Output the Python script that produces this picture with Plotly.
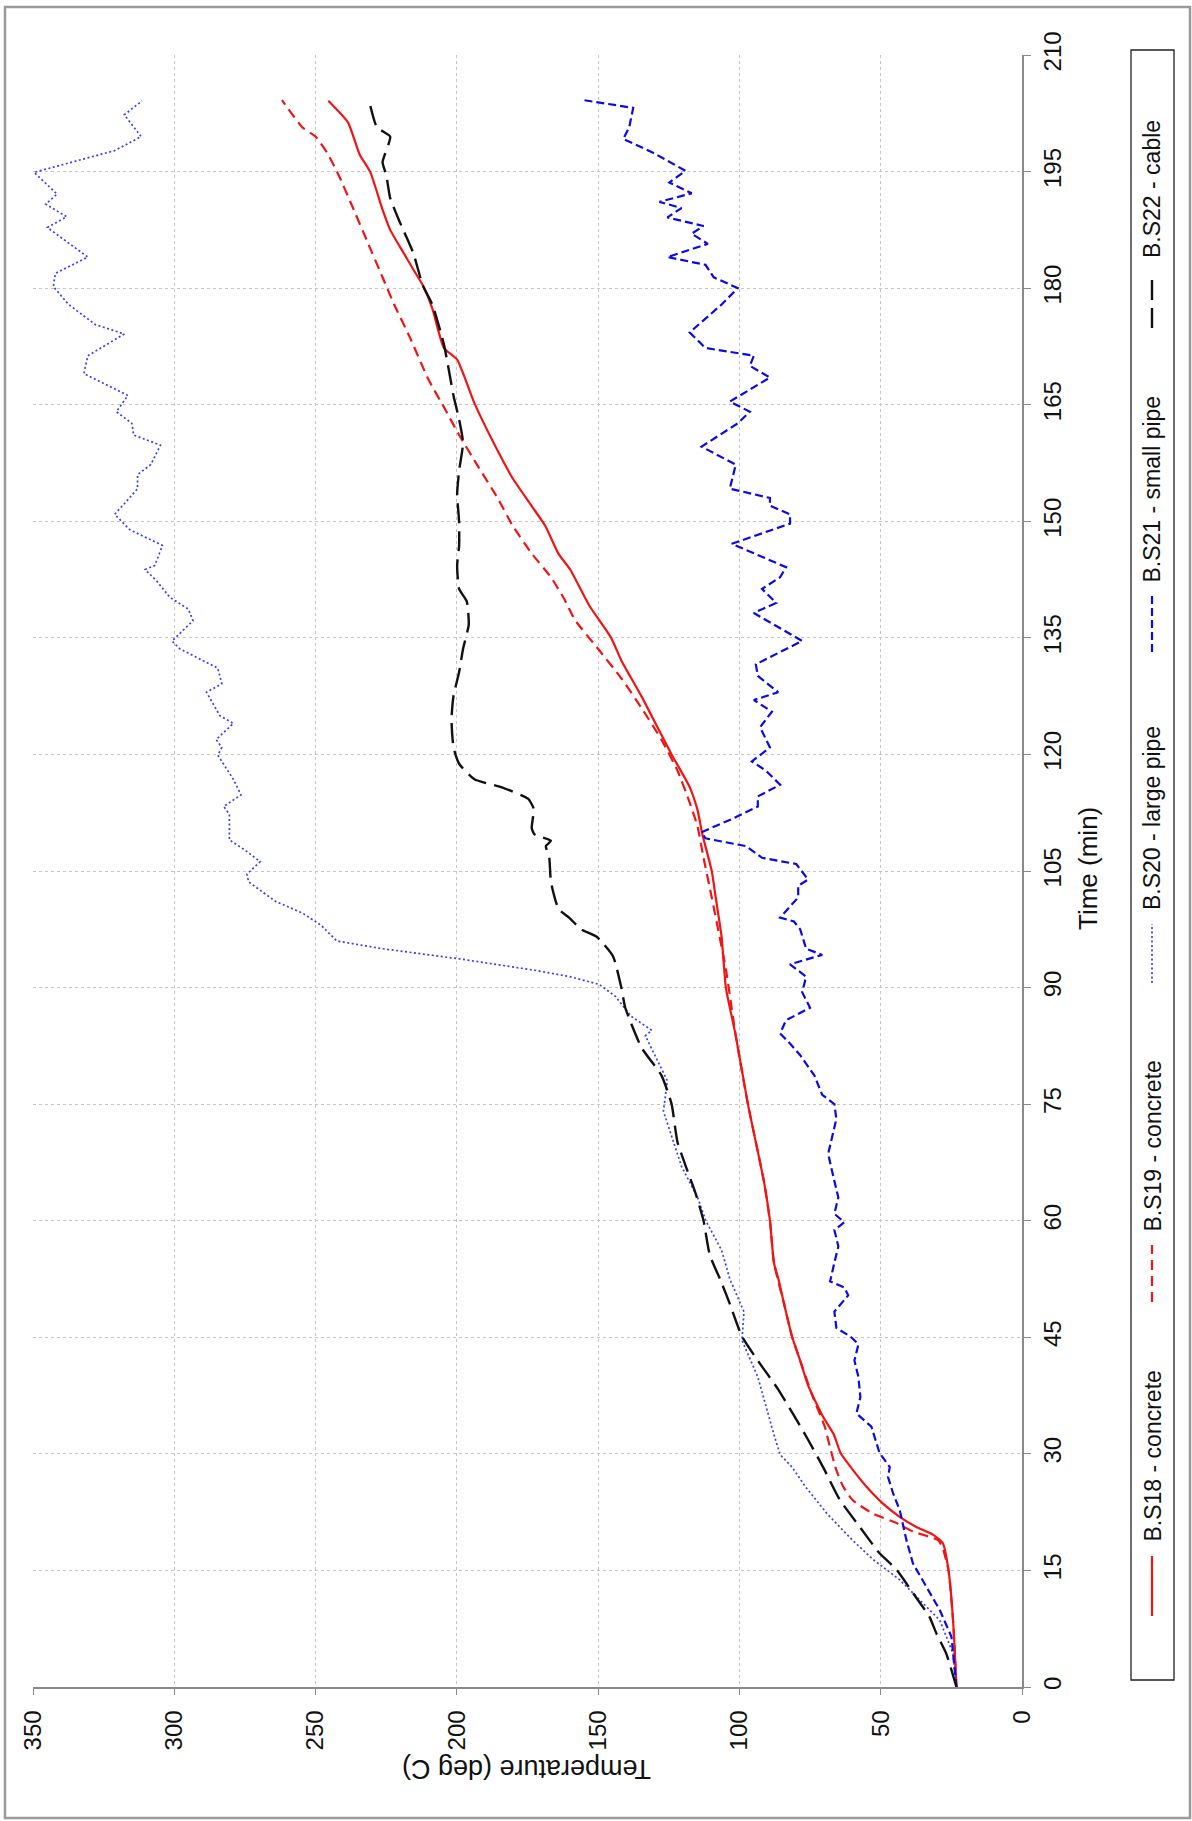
import plotly.graph_objects as go

# ---------------- data (time in min, temperature in deg C) ----------------
time_s18 = [0, 8.6, 15, 18.5, 19.6, 20.6, 21.9, 23.6, 25.8, 27.9, 30.1, 32.5, 34.9, 38.8, 42, 45.1, 49.3, 52.5, 54.6, 60,
            65, 75, 83.8, 90, 96.5, 101.6, 105, 109.7, 112.8, 115.8, 120, 123, 127.5, 132.1, 135, 139.2, 143.8, 145.8,
            149.4, 151.9, 155.5, 160.1, 165.2, 170.8, 172.3, 177.4, 180.4, 182.4, 184.5, 187.5, 190.1, 194.9, 197.2,
            201.3, 204.1]
temp_s18 = [23.2, 24.4, 26, 28, 31.5, 37.4, 43.3, 49.2, 55.1, 59.8, 64.2, 66.6, 70.6, 75.7, 78.5, 81.4, 84.2, 86.2, 87.8,
            89.2, 91.3, 97, 101.3, 104.8, 106.3, 108.4, 109.8, 113.1, 114.8, 117.6, 124, 128.3, 134.7, 141.8, 145.4,
            153.2, 159.9, 164, 168.7, 173.4, 180.2, 187, 193.8, 199.9, 204.6, 208.7, 212.1, 215.4, 218.8, 223.6, 226.3,
            230.6, 234.4, 238.5, 245.5]

time_s19 = [0, 8.6, 15, 17.8, 18.9, 20, 21.1, 22.3, 24, 25.8, 27.9, 30.9, 33.5, 37.3, 42, 45.1, 49.3, 54.6, 60, 65, 75,
            83.8, 92.4, 96.5, 101.6, 106.7, 110.7, 113.8, 117.9, 121.9, 126, 129.8, 133.4, 137.3, 140, 142.8, 145.8,
            149.4, 153, 157, 161.1, 164.7, 168.2, 173.8, 177.9, 181.4, 186, 190.6, 194.6, 197.4, 199.5, 200.7, 204.2]
temp_s19 = [23.2, 24.4, 26, 28, 29.7, 38.6, 44.4, 52.7, 59.8, 63.3, 65.7, 68, 69.8, 74, 78.5, 81.4, 84.2, 87.8, 89.2,
            91.3, 97, 101.3, 104.8, 107, 109.8, 112.7, 114.8, 117.6, 121.9, 127.6, 134.7, 141.8, 149.6, 158.2, 162,
            166.7, 173.4, 180.2, 185.6, 192.4, 199.2, 204.6, 210, 216.8, 222.2, 226.3, 231.7, 237.1, 241.9, 245.9, 250,
            254.7, 261.9]

time_s20 = [0, 4.3, 8.6, 11.2, 13.8, 16.4, 18.9, 22.3, 25.7, 28.3, 29.9, 32.5, 36.2, 39.9, 44.6, 48.3, 52.5, 56.2, 60,
            63, 67, 74.1, 78, 83.8, 84.5, 86.3, 88.9, 90.4, 91.4, 92.2, 93.7, 95, 96, 98, 99.6, 101.1, 103.6, 104.6,
            106.2, 107.7, 109, 112.3, 113.3, 114.8, 116.8, 119.9, 120.9, 121.9, 124, 125, 128, 129.1, 131.1, 133.6,
            134.6, 137.2, 138.7, 140.2, 142.3, 143.8, 144.3, 146.9, 148.9, 150.9, 152.5, 154.2, 156, 157.3, 159.8,
            161.1, 162.6, 164.1, 166.2, 169, 171.3, 174.1, 175.3, 177.9, 180.2, 181.9, 184, 186.5, 187.8, 189.2,
            190.8, 192.1, 194.9, 197.7, 199.5, 202.3, 204.1]
temp_s20 = [23.2, 24.4, 29.1, 36.2, 43.3, 52.7, 60, 69, 76.5, 81.4, 85.6, 87.8, 90.6, 93.5, 99.1, 98.4, 103.4, 106.3,
            111.9, 114.8, 120.5, 126.9, 125.5, 133.3, 131, 138.3, 144, 149.6, 160, 172, 199.2, 226.3, 242.5, 248, 254.7,
            264.2, 273.7, 274.3, 269.6, 275, 280.5, 280.5, 282.5, 276.4, 279.1, 284.6, 283.2, 285.2, 279.1, 283.9,
            288.6, 283.2, 284.6, 298.1, 300.8, 293.4, 295, 301.5, 306.2, 310.3, 306.9, 304.2, 315.7, 321.1, 317.1, 313,
            313, 308.3, 304.9, 314.4, 315, 320.5, 316.4, 332, 330.6, 317.7, 327.9, 337.4, 342.8, 342.1, 330.6, 340.1,
            344.9, 338.1, 345.5, 341.5, 349.6, 321.1, 311.7, 317.7, 311.4]

time_s21 = [0, 4.7, 6.5, 9.9, 12.9, 15.9, 18.9, 22.8, 24.9, 27, 28.3, 30.1, 33.5, 34.4, 35.2, 37.3, 39.9, 42, 44.1,
            45.1, 46.2, 48.3, 50.4, 51.4, 52.2, 54.6, 56.7, 58.8, 59.8, 60.9, 63, 65.1, 68.6, 73.1, 75, 76.2, 78.7,
            81.3, 82.8, 84.1, 85.8, 87.4, 89.4, 91.4, 93, 94.2, 95, 97.5, 98.5, 99, 101.6, 103.1, 103.9, 105.9, 106.7,
            108.2, 109.2, 110, 111.8, 113.3, 114.6, 116.1, 117.9, 119.1, 120.9, 123.5, 125.5, 127, 128, 130.1, 131.6,
            134.6, 138.2, 139.5, 141.3, 142.8, 144.1, 147.1, 149.7, 150.9, 152, 153, 154.2, 157.3, 159.6, 162.6,
            164.1, 165.4, 168.5, 170, 171.3, 172.3, 174.3, 177.9, 180, 181.4, 183, 184, 185.7, 187, 188, 189.1,
            190.3, 191.1, 192.2, 193.6, 195.1, 197.4, 199.2, 200.7, 203.2, 204.2]
temp_s21 = [23.2, 24.6, 25, 29.1, 33.8, 38.6, 40.9, 43.3, 45.6, 47.4, 46.8, 50.4, 53.3, 56.3, 58.6, 57.2, 57.9, 59.3,
            57.9, 60.7, 65.7, 66.4, 61.5, 62.9, 67.9, 66.4, 65, 66.4, 62.9, 66.4, 65, 66.4, 68.6, 65.7, 66.4, 70.7,
            73.5, 78.5, 82.1, 85.6, 83.5, 75, 77.8, 76.4, 82.1, 70.7, 76.4, 78.5, 80.7, 85.6, 79.2, 79.2, 75.7, 79.9,
            92, 97.7, 112, 113.4, 102, 93.5, 93.5, 85.6, 90.6, 95.6, 89.2, 92.7, 88.5, 94.9, 86.3, 93.5, 94.2, 77.8,
            94.9, 87, 92, 85.6, 83.5, 102.7, 82.1, 82.1, 89.2, 89.2, 103.4, 101.3, 113.4, 100.6, 96.3, 103.4, 89.2,
            96.3, 94.9, 112, 117.6, 106.3, 100.6, 109.1, 112, 125.5, 111.2, 116.9, 112.7, 125.5, 120.5, 128.3, 116.9,
            124.8, 119.1, 130.4, 141.1, 139, 137.6, 155.3]

time_s22 = [0, 4.3, 6.9, 9, 12.1, 15.1, 17.2, 20.6, 24.1, 28.3, 32.2, 38.3, 42, 45.1, 49.3, 52, 55.6, 60, 63.5, 70.1,
            75, 78.7, 82.3, 87.4, 90, 94, 96.5, 97.5, 99, 100.1, 103.6, 106.7, 108.2, 108.9, 109.7, 110.5, 113, 114.3,
            115.8, 116.8, 118.8, 120.9, 124.5, 127.5, 130.6, 133.6, 136.7, 139.7, 141.3, 144.3, 146.9, 149.9, 153.5,
            156.5, 160.1, 163.1, 166.2, 172.8, 177.9, 180.4, 184.5, 188.5, 191.6, 194.6, 196.2, 199.5, 200.7, 204]
temp_s22 = [23.2, 26.8, 30.3, 32.7, 38.6, 44.4, 50.4, 57.4, 64.5, 70.4, 76.3, 86.3, 93.5, 99.1, 103.4, 106.3, 110.5,
            112.7, 115.5, 121.9, 124, 127.6, 134.7, 140.4, 141.8, 144.7, 150.4, 156, 160.3, 164, 166.7, 167.3, 168.5,
            166.7, 172.5, 173.5, 172.8, 174.8, 184.3, 193.8, 199.2, 201.2, 201.9, 201.2, 199.2, 197.8, 195.8, 196.5,
            199.2, 199.9, 199.2, 199.2, 199.9, 199.2, 197.8, 199.2, 201.2, 204.6, 208.7, 212.1, 215.4, 220.2, 223.6,
            225, 226.3, 223.6, 228.3, 231]

series_names = ["B.S18 - concrete", "B.S19 - concrete", "B.S20 - large pipe", "B.S21 - small pipe", "B.S22 - cable"]
time_ticks = list(range(0, 211, 15))
temp_ticks = list(range(0, 351, 50))

# ---------------- styles ----------------
styles = [
    dict(color="#f01414", width=2.2, dash="solid", shape="spline"),
    dict(color="#f01414", width=2.2, dash="10px,6px", shape="spline"),
    dict(color="#3c3cff", width=1.7, dash="2px,2.5px", shape="linear"),
    dict(color="#0a0ae6", width=2.2, dash="8px,4px", shape="linear"),
    dict(color="#111111", width=2.4, dash="20px,8px", shape="spline"),
]
data = [(time_s18, temp_s18), (time_s19, temp_s19), (time_s20, temp_s20), (time_s21, temp_s21), (time_s22, temp_s22)]

FW, FH = 1192, 1821
L, R, TOP, BOT = 33, 1022, 55, 1687
PW, PH = R - L, BOT - TOP


def px(X):
    return (X - L) / PW


def py(Y):
    return (BOT - Y) / PH


FONT = "Liberation Sans, Arial, sans-serif"

fig = go.Figure()
for (t, T), st, nm in zip(data, styles, series_names):
    line = dict(color=st["color"], width=st["width"], dash=st["dash"], shape=st["shape"])
    if st["shape"] == "spline":
        line["smoothing"] = 0.5
    fig.add_trace(go.Scatter(x=T, y=t, mode="lines", name=nm, line=line, showlegend=False))

fig.update_layout(
    width=FW, height=FH,
    margin=dict(l=L, r=FW - R, t=TOP, b=FH - BOT, pad=0),
    paper_bgcolor="white", plot_bgcolor="white",
    showlegend=False,
    font=dict(family=FONT, color="#111111"),
)
fig.update_xaxes(
    range=[350, 0], tickvals=temp_ticks, ticktext=[str(v) for v in temp_ticks],
    tickangle=-90, ticks="outside", ticklen=6, tickwidth=1.2, tickcolor="#8a8a8a",
    showline=True, linecolor="#8a8a8a", linewidth=1.5,
    showgrid=True, gridcolor="#c4c4c4", griddash="dot", gridwidth=1,
    zeroline=False, tickfont=dict(family=FONT, size=24, color="#111111"),
    ticklabelstandoff=6,
)
fig.update_yaxes(
    range=[0, 210], tickvals=time_ticks, ticktext=[str(v) for v in time_ticks], side="right",
    tickangle=-90, ticks="outside", ticklen=7, tickwidth=1.2, tickcolor="#8a8a8a",
    showline=True, linecolor="#8a8a8a", linewidth=1.5,
    showgrid=True, gridcolor="#c4c4c4", griddash="dot", gridwidth=1,
    zeroline=False, tickfont=dict(family=FONT, size=24, color="#111111"),
    ticklabelstandoff=1,
)

shapes = []
annotations = []
# outer frame
shapes.append(dict(type="rect", xref="paper", yref="paper", x0=px(5), x1=px(1190), y0=py(1818), y1=py(7),
                   line=dict(color="#9a9a9a", width=2.5), fillcolor="rgba(0,0,0,0)", layer="above"))
# legend box
shapes.append(dict(type="rect", xref="paper", yref="paper", x0=px(1131), x1=px(1174), y0=py(1680), y1=py(50),
                   line=dict(color="#222222", width=1.3), fillcolor="rgba(0,0,0,0)", layer="above"))

legend_sample = [(1556, 1616), (1245, 1302), (924, 983), (593, 652), (272, 328)]
legend_text_bottom = [1544, 1234, 912, 585, 260]
LEG_X = 1152
for st, nm, (s0, s1), tb in zip(styles, series_names, legend_sample, legend_text_bottom):
    shapes.append(dict(type="line", xref="paper", yref="paper", x0=px(LEG_X), x1=px(LEG_X), y0=py(s1), y1=py(s0),
                       line=dict(color=st["color"], width=st["width"], dash=st["dash"])))
    annotations.append(dict(xref="paper", yref="paper", x=px(LEG_X), y=py(tb), xanchor="center", yanchor="bottom",
                            text=nm, textangle=-90, showarrow=False,
                            font=dict(family=FONT, size=23, color="#111111")))

# axis titles
annotations.append(dict(xref="paper", yref="paper", x=px(1088), y=py(869), xanchor="center", yanchor="middle",
                        text="Time (min)", textangle=-90, showarrow=False,
                        font=dict(family=FONT, size=26, color="#111111")))
annotations.append(dict(xref="paper", yref="paper", x=px(527), y=py(1769), xanchor="center", yanchor="middle",
                        text="Temperature (deg C)", textangle=180, showarrow=False,
                        font=dict(family=FONT, size=27, color="#111111")))

fig.update_layout(shapes=shapes, annotations=annotations)

fig.write_html("out.html", config={"displayModeBar": False},
               post_script="document.body.style.margin='0';document.body.style.overflow='hidden';")
